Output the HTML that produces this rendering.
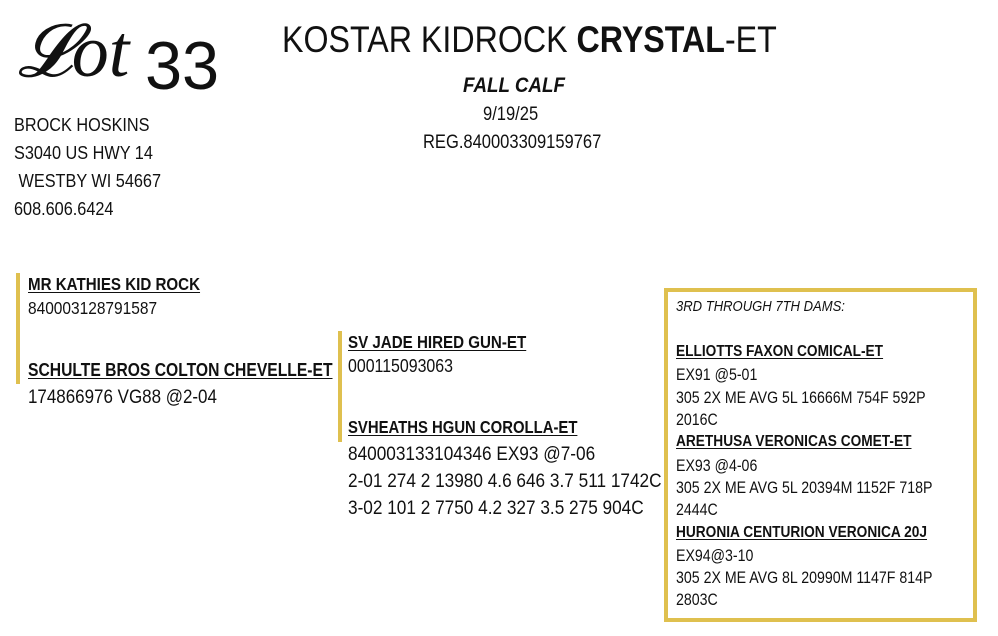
<!DOCTYPE html>
<html><head><meta charset="utf-8"><style>
body{margin:0;width:998px;height:636px;background:#fff;position:relative;overflow:hidden;font-family:"Liberation Sans",sans-serif;color:#111}
.t{position:absolute;white-space:nowrap;line-height:20px;height:20px;transform:scaleX(0.87);transform-origin:0 50%}
.u{text-decoration:underline;font-weight:bold;text-underline-offset:2px}
.bar{position:absolute;background:#dfc04f;width:4px}
.a{font-size:18.7px}.b{font-size:16.3px}
</style></head><body>
<div style="position:absolute;left:18px;top:2px;height:100px;line-height:100px;font-family:'Liberation Serif',serif;font-style:italic;font-size:74px;white-space:nowrap">𝓛ot</div>
<div class="t" style="left:145px;top:36px;height:60px;line-height:60px;font-size:68px;transform:scaleX(0.98)">33</div>
<div class="t" style="left:282px;top:20px;height:40px;line-height:40px;font-size:37px">KOSTAR KIDROCK <b>CRYSTAL</b>-ET</div>
<div class="t" style="left:463px;top:75px;font-size:21.6px;font-weight:bold;font-style:italic">FALL CALF</div>
<div class="t" style="left:483px;top:105px;font-size:19px">9/19/25</div>
<div class="t" style="left:423px;top:133px;font-size:19px">REG.840003309159767</div>
<div class="t a" style="left:14px;top:115px">BROCK HOSKINS</div>
<div class="t a" style="left:14px;top:143px">S3040 US HWY 14</div>
<div class="t a" style="left:14px;top:171px">&nbsp;WESTBY WI 54667</div>
<div class="t a" style="left:14px;top:199px">608.606.6424</div>

<div class="bar" style="left:16px;top:273px;height:111px"></div>
<div class="t u" style="left:28px;top:274px;font-size:17.4px">MR KATHIES KID ROCK</div>
<div class="t" style="left:28px;top:298px;font-size:17.8px">840003128791587</div>
<div class="t u" style="left:28px;top:360px;font-size:18px">SCHULTE BROS COLTON CHEVELLE-ET</div>
<div class="t" style="left:28px;top:387px;font-size:19.5px">174866976 VG88 @2-04</div>

<div class="bar" style="left:338px;top:331px;height:111px"></div>
<div class="t u" style="left:348px;top:332px;font-size:17.4px">SV JADE HIRED GUN-ET</div>
<div class="t" style="left:348px;top:356px;font-size:18.3px">000115093063</div>
<div class="t u" style="left:348px;top:418px;font-size:17.1px">SVHEATHS HGUN COROLLA-ET</div>
<div class="t" style="left:348px;top:444px;font-size:19.8px">840003133104346 EX93 @7-06</div>
<div class="t" style="left:348px;top:471px;font-size:19.8px">2-01 274 2 13980 4.6 646 3.7 511 1742C</div>
<div class="t" style="left:348px;top:498px;font-size:19.8px">3-02 101 2 7750 4.2 327 3.5 275 904C</div>

<div style="position:absolute;left:664px;top:288px;width:305px;height:326px;border:4px solid #dfc04f"></div>
<div class="t" style="left:676px;top:297px;font-style:italic;font-size:15px">3RD THROUGH 7TH DAMS:</div>
<div class="t u" style="left:676px;top:342px;font-size:15.75px">ELLIOTTS FAXON COMICAL-ET</div>
<div class="t b" style="left:676px;top:365px">EX91 @5-01</div>
<div class="t b" style="left:676px;top:388px">305 2X ME AVG 5L 16666M 754F 592P</div>
<div class="t b" style="left:676px;top:410px">2016C</div>
<div class="t u" style="left:676px;top:432px;font-size:15.75px">ARETHUSA VERONICAS COMET-ET</div>
<div class="t b" style="left:676px;top:456px">EX93 @4-06</div>
<div class="t b" style="left:676px;top:478px">305 2X ME AVG 5L 20394M 1152F 718P</div>
<div class="t b" style="left:676px;top:500px">2444C</div>
<div class="t u" style="left:676px;top:523px;font-size:15.75px">HURONIA CENTURION VERONICA 20J</div>
<div class="t b" style="left:676px;top:546px">EX94@3-10</div>
<div class="t b" style="left:676px;top:568px">305 2X ME AVG 8L 20990M 1147F 814P</div>
<div class="t b" style="left:676px;top:590px">2803C</div>
</body></html>
